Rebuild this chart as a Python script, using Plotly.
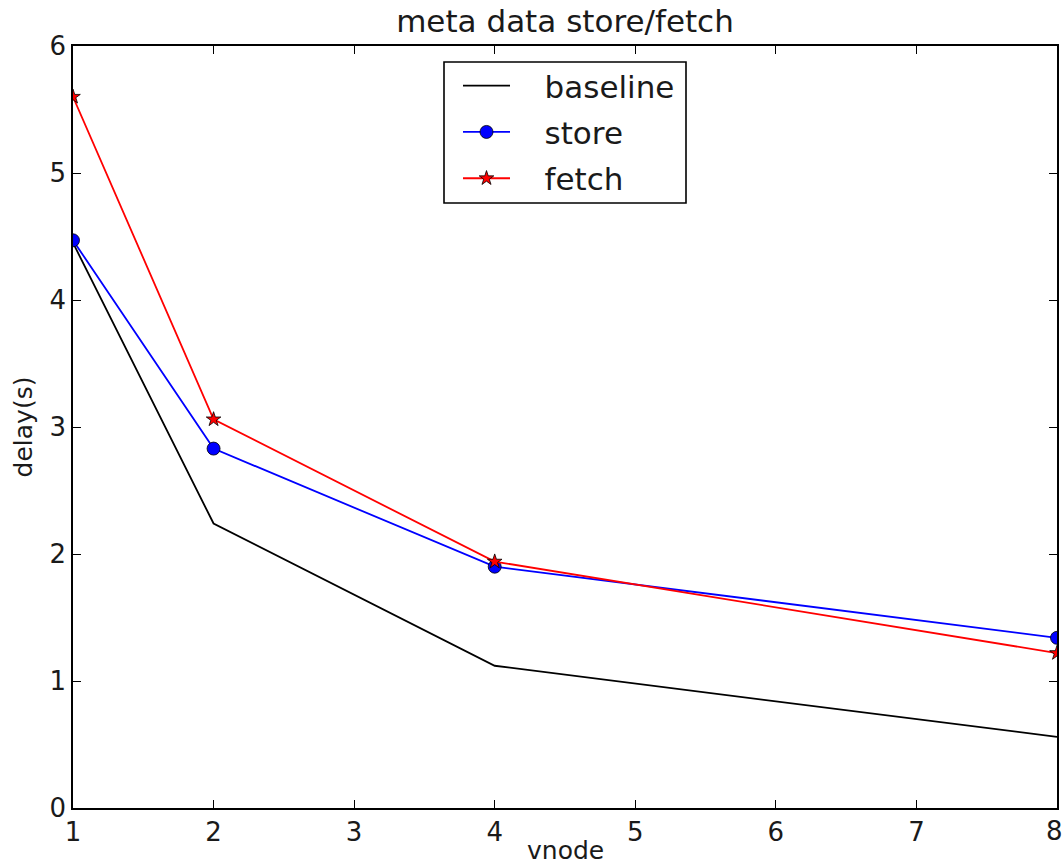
import plotly.graph_objects as go

# vnode counts and measured delays (seconds)
vnode = [1, 2, 4, 8]
baseline = [4.45, 2.24, 1.12, 0.56]
store = [4.47, 2.83, 1.90, 1.34]
fetch = [5.60, 3.06, 1.94, 1.22]

x_ticks = [1, 2, 3, 4, 5, 6, 7, 8]
y_ticks = [0, 1, 2, 3, 4, 5, 6]

FONT = "DejaVu Sans"
TXT = "#1a1a1a"
W, H = 1062, 868
L, R, T, B = 73, 5, 46, 60
PW, PH = W - L - R, H - T - B

NB = "\u00a0"

fig = go.Figure()
fig.add_trace(go.Scatter(
    x=vnode, y=baseline, name=NB * 3 + "baseline", mode="lines",
    line=dict(color="black", width=1.8), legendgroup="a",
))
fig.add_trace(go.Scatter(
    x=vnode, y=store, name=NB * 3 + "store", mode="lines+markers",
    line=dict(color="blue", width=1.8),
    marker=dict(symbol="circle", size=13, color="blue",
                line=dict(color="#000000", width=0.8)),
    legendgroup="b",
))
fig.add_trace(go.Scatter(
    x=vnode, y=fetch, name=NB * 3 + "fetch", mode="lines+markers",
    line=dict(color="red", width=1.8),
    marker=dict(symbol="star", size=11, color="red",
                line=dict(color="#000000", width=0.8)),
    legendgroup="c",
))

axis_common = dict(
    showgrid=False, zeroline=False, automargin=False,
    showline=True, linecolor="black", linewidth=1.6,
    mirror="ticks", ticks="inside", ticklen=8, tickwidth=1,
    tickcolor="black",
    tickfont=dict(family=FONT, size=26, color=TXT),
)

# the last x label sits at the page edge, so it is placed separately
x_text = [str(v) for v in x_ticks]
last_label = x_text[-1]
x_text[-1] = ""

# legend frame (the legend itself is drawn without a border)
box_l, box_r, box_t, box_b = 444, 686, 62, 203

fig.update_layout(
    width=W, height=H,
    margin=dict(l=L, r=R, t=T, b=B),
    paper_bgcolor="white", plot_bgcolor="white",
    title=dict(text="meta data store/fetch", x=(L + PW / 2) / W,
               xanchor="center", y=1 - 21 / H, yanchor="middle",
               yref="container",
               font=dict(family=FONT, size=31, color=TXT)),
    xaxis=dict(axis_common, range=[1, 8], tickvals=x_ticks,
               ticktext=x_text),
    yaxis=dict(axis_common, range=[0, 6], tickvals=y_ticks,
               ticktext=[str(v) for v in y_ticks],
               title=dict(text="delay(s)", standoff=10,
                          font=dict(family=FONT, size=25, color=TXT))),
    legend=dict(
        x=(box_l + 14 - L) / PW, y=(H - B - box_t + 3) / PH,
        xanchor="left", yanchor="top",
        borderwidth=0, bgcolor="rgba(0,0,0,0)",
        font=dict(family=FONT, size=31, color=TXT),
        tracegroupgap=3, itemwidth=47,
    ),
    shapes=[dict(
        type="rect", xref="paper", yref="paper",
        x0=(box_l - L) / PW, x1=(box_r - L) / PW,
        y0=(H - B - box_b) / PH, y1=(H - B - box_t) / PH,
        line=dict(color="black", width=1.6), fillcolor="white",
        layer="above",
    )],
    annotations=[
        dict(text="vnode", xref="paper", yref="paper",
             x=0.5, y=-(867 - (H - B)) / PH,
             xanchor="center", yanchor="bottom", showarrow=False,
             font=dict(family=FONT, size=25, color=TXT)),
        dict(text=last_label, xref="x", yref="paper",
             x=x_ticks[-1], xshift=-3, y=-(831 - (H - B)) / PH,
             xanchor="center", yanchor="middle", showarrow=False,
             font=dict(family=FONT, size=26, color=TXT)),
    ],
)

fig.write_html("out.html")
